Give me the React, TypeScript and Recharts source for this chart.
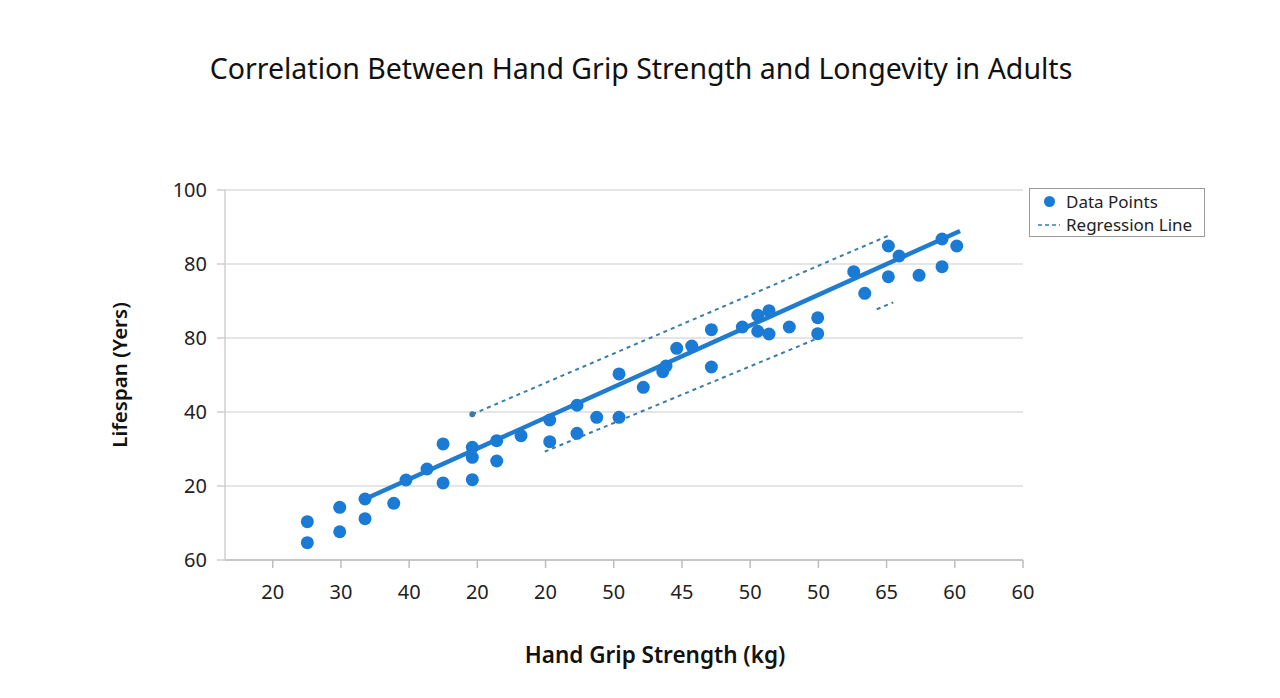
import { ComposedChart, Scatter, XAxis, YAxis, CartesianGrid } from "recharts";

// axis tick labels exactly as shown (positions 1..12 on x, 0..5 on y)
const xTickLabels = ["20", "30", "40", "20", "20", "50", "45", "50", "50", "65", "60", "60"];
const yTickLabels = ["60", "20", "40", "80", "80", "100"];

const points = [
  { x: 1.507, y: 0.518 }, { x: 1.507, y: 0.234 }, { x: 1.982, y: 0.712 }, { x: 1.982, y: 0.382 },
  { x: 2.353, y: 0.558 }, { x: 2.353, y: 0.824 }, { x: 2.774, y: 0.766 }, { x: 2.954, y: 1.081 },
  { x: 3.262, y: 1.23 }, { x: 3.497, y: 1.568 }, { x: 3.497, y: 1.041 }, { x: 3.926, y: 1.523 },
  { x: 3.926, y: 1.388 }, { x: 3.926, y: 1.085 }, { x: 4.284, y: 1.612 }, { x: 4.284, y: 1.338 },
  { x: 4.64, y: 1.68 }, { x: 5.061, y: 1.892 }, { x: 5.061, y: 1.599 }, { x: 5.461, y: 2.091 },
  { x: 5.461, y: 1.712 }, { x: 5.75, y: 1.928 }, { x: 6.077, y: 1.928 }, { x: 6.077, y: 2.514 },
  { x: 6.433, y: 2.334 }, { x: 6.718, y: 2.545 }, { x: 6.766, y: 2.622 }, { x: 6.923, y: 2.861 },
  { x: 7.143, y: 2.892 }, { x: 7.431, y: 3.112 }, { x: 7.431, y: 2.608 }, { x: 7.885, y: 3.149 },
  { x: 8.111, y: 3.307 }, { x: 8.111, y: 3.091 }, { x: 8.276, y: 3.369 }, { x: 8.276, y: 3.054 },
  { x: 8.574, y: 3.149 }, { x: 8.99, y: 3.274 }, { x: 8.99, y: 3.058 }, { x: 9.518, y: 3.896 },
  { x: 9.68, y: 3.604 }, { x: 10.026, y: 4.243 }, { x: 10.026, y: 3.828 }, { x: 10.183, y: 4.108 },
  { x: 10.476, y: 3.847 }, { x: 10.813, y: 4.338 }, { x: 10.813, y: 3.964 }, { x: 11.029, y: 4.243 },
];

const regression = [{ x: 2.353, y: 0.824 }, { x: 11.077, y: 4.446 }];
const upperBand = [{ x: 3.926, y: 1.969 }, { x: 10.04, y: 4.388 }];
const lowerBand = [{ x: 4.988, y: 1.464 }, { x: 8.99, y: 2.996 }];
const lowerStub = [{ x: 9.856, y: 3.388 }, { x: 10.099, y: 3.482 }];

const DOT = "#1a7bd6";
const LINE = "#1f7ccf";
const DASH = "#3a7ca8";
const FONT = "'Noto Sans', 'Open Sans', sans-serif";

const noShape = () => <g />;

function LegendBox() {
  return (
    <div
      style={{
        position: "absolute",
        left: 1029,
        top: 188,
        width: 176,
        height: 49,
        boxSizing: "border-box",
        border: "1px solid #9a9a9a",
        padding: "1px 0 0 8px",
        background: "#fff",
        fontFamily: FONT,
        fontSize: 17,
        color: "#222",
        lineHeight: "23px",
      }}
    >
      <div style={{ display: "flex", alignItems: "center" }}>
        <span style={{ display: "inline-block", width: 11, height: 11, borderRadius: 6, background: DOT, margin: "0 11px 0 6px" }} />
        Data Points
      </div>
      <div style={{ display: "flex", alignItems: "center" }}>
        <svg width={22} height={4} style={{ marginRight: 6 }}>
          <line x1={0} y1={2} x2={22} y2={2} stroke={DASH} strokeWidth={1.5} strokeDasharray="4 3" />
        </svg>
        Regression Line
      </div>
    </div>
  );
}

export default function App() {
  return (
    <div style={{ position: "absolute", left: 0, top: 0, width: 1280, height: 698, background: "#fff" }}>
      <div
        style={{
          position: "absolute",
          top: 49,
          left: 0,
          width: 1282,
          textAlign: "center",
          fontFamily: FONT,
          fontSize: 28.5,
          color: "#111",
        }}
      >
        Correlation Between Hand Grip Strength and Longevity in Adults
      </div>
      <ComposedChart width={1280} height={698} margin={{ top: 190, right: 257, left: 0, bottom: 0 }}>
        <CartesianGrid horizontal vertical={false} stroke="#dcdcdc" strokeWidth={1.5} />
        <XAxis
          type="number"
          dataKey="x"
          domain={[0.3, 12]}
          ticks={[1, 2, 3, 4, 5, 6, 7, 8, 9, 10, 11, 12]}
          tickFormatter={(v: number) => xTickLabels[v - 1]}
          height={138}
          tickSize={8}
          tickMargin={17}
          stroke="#bdbdbd"
          strokeWidth={1.5}
          tick={{ fontSize: 20, fill: "#222", fontFamily: FONT }}
          allowDataOverflow
          label={{ value: "Hand Grip Strength (kg)", position: "insideBottom", offset: 35, dx: 31, fontSize: 22.5, fontWeight: 600, fill: "#111", fontFamily: FONT }}
        />
        <YAxis
          type="number"
          dataKey="y"
          domain={[0, 5]}
          ticks={[0, 1, 2, 3, 4, 5]}
          tickFormatter={(v: number) => yTickLabels[v]}
          width={225}
          tickSize={8}
          tickMargin={10}
          stroke="#cfcfcf"
          strokeWidth={1.5}
          tick={{ fontSize: 20, fill: "#222", fontFamily: FONT }}
          allowDataOverflow
          label={{ value: "Lifespan (Yers)", angle: -90, position: "insideLeft", offset: 120, fontSize: 20.5, fontWeight: 600, fill: "#111", fontFamily: FONT, style: { textAnchor: "middle" } }}
        />
        <Scatter
          data={upperBand}
          line={{ stroke: DASH, strokeWidth: 2, strokeDasharray: "4 4" }}
          shape={(p: any) => (p.index === 0 ? <circle cx={p.cx} cy={p.cy} r={3} fill={DASH} /> : <g />)}
          isAnimationActive={false}
          legendType="none"
        />
        <Scatter
          data={lowerBand}
          line={{ stroke: DASH, strokeWidth: 2, strokeDasharray: "4 4" }}
          shape={noShape}
          isAnimationActive={false}
          legendType="none"
        />
        <Scatter
          data={lowerStub}
          line={{ stroke: DASH, strokeWidth: 2, strokeDasharray: "4 4" }}
          shape={noShape}
          isAnimationActive={false}
          legendType="none"
        />
        <Scatter
          data={regression}
          line={{ stroke: LINE, strokeWidth: 4.5 }}
          shape={noShape}
          isAnimationActive={false}
          legendType="none"
        />
        <Scatter
          data={points}
          shape={(p: any) => <circle cx={p.cx} cy={p.cy} r={6.5} fill={DOT} />}
          isAnimationActive={false}
        />
      </ComposedChart>
      <LegendBox />
    </div>
  );
}
